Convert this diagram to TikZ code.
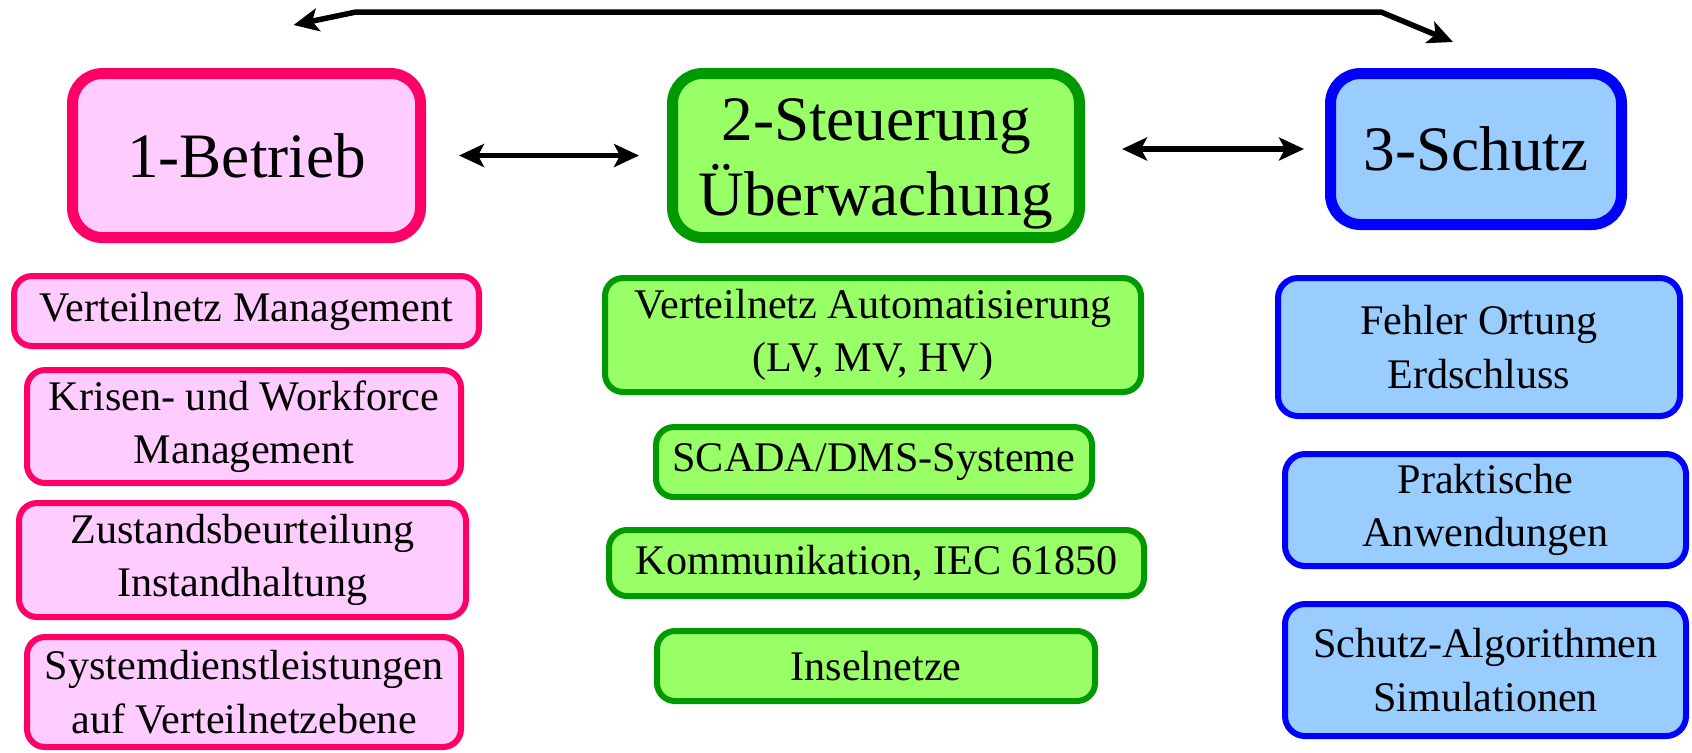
\documentclass[tikz,border=0pt]{standalone}
\usepackage{fontspec}
\setmainfont{Liberation Serif}
\usetikzlibrary{arrows.meta}

\definecolor{pinkline}{HTML}{FF0066}
\definecolor{pinkfill}{HTML}{FFCCFF}
\definecolor{greenline}{HTML}{009900}
\definecolor{greenfill}{HTML}{99FF66}
\definecolor{blueline}{HTML}{0000FF}
\definecolor{bluefill}{HTML}{99CCFF}

\begin{document}
\begin{tikzpicture}[
    head/.style={draw, rounded corners=3mm, line width=1.1mm, inner sep=0pt, align=center,
      font=\fontsize{18}{21.5}\selectfont},
    sub/.style={draw, rounded corners=1.8mm, line width=0.6mm, inner sep=0pt, align=center,
      font=\fontsize{12}{15.2}\selectfont},
    arr/.style={line width=0.55mm, {Stealth[length=2.5mm, width=2.3mm, inset=0.6mm]}-{Stealth[length=2.5mm, width=2.3mm, inset=0.6mm]}}
  ]
      \useasboundingbox (0,0) rectangle (16.92,-7.52);
      %
      \node[head, draw=pinkline, fill=pinkfill, minimum width=3.48cm, minimum height=1.64cm] (betrieb) at (2.465,-1.555) {1-Betrieb};
      \node[head, draw=greenline, fill=greenfill, minimum width=4.07cm, minimum height=1.64cm] (steuerung) at (8.76,-1.555) {\rule{0pt}{5.9mm}2-Steuerung\\Überwachung};
      \node[head, draw=blueline, fill=bluefill, minimum width=2.91cm, minimum height=1.51cm] (schutz) at (14.76,-1.49) {3-Schutz};
      %
      \foreach \n/\x/\y/\w/\h/\t in {1/2.465/-3.11/4.65/0.70/{Verteilnetz Management},
          2/2.44/-4.265/4.34/1.13/{Krisen- und Workforce\\Management},
          3/2.425/-5.60/4.47/1.14/{Zustandsbeurteilung\\Instandhaltung},
          4/2.44/-6.92/4.34/1.10/{Systemdienstleistungen\\auf Verteilnetzebene}}
        \node[sub, draw=pinkline, fill=pinkfill, minimum width=\w cm, minimum height=\h cm] (betr\n) at (\x,\y) {\t};
      \foreach \n/\x/\y/\w/\h/\t in {1/8.73/-3.35/5.36/1.14/{Verteilnetz Automatisierung\\(LV, MV, HV)},
          2/8.74/-4.62/4.36/0.70/{SCADA/DMS-Systeme},
          3/8.765/-5.63/5.35/0.66/{Kommunikation, IEC 61850},
          4/8.76/-6.66/4.38/0.70/{Inselnetze}}
        \node[sub, draw=greenline, fill=greenfill, minimum width=\w cm, minimum height=\h cm] (steu\n) at (\x,\y) {\t};
      \foreach \n/\x/\y/\w/\h/\t in {1/14.79/-3.47/4.02/1.38/{Fehler Ortung\\Erdschluss},
          2/14.855/-5.10/4.01/1.12/{Praktische\\Anwendungen},
          3/14.855/-6.70/4.01/1.32/{Schutz-Algorithmen\\Simulationen}}
        \node[sub, draw=blueline, fill=bluefill, rounded corners=2mm, minimum width=\w cm, minimum height=\h cm] (schu\n) at (\x,\y) {\t};
      %
      \draw[arr, shorten <=3.3mm, shorten >=2.8mm] (betrieb.east) -- (steuerung.west);
      \draw[arr, shorten <=3.7mm, shorten >=2.1mm] (steuerung.east |- schutz.west) -- (schutz.west);
      %
      \coordinate (topL) at ([shift={(0.47,0.43)}]betrieb.north);
      \coordinate (topR) at ([shift={(-0.23,0.26)}]schutz.north);
      \draw[arr] (topL) -- (3.56,-0.12) -- (13.81,-0.12) -- (topR);
    \end{tikzpicture}
\end{document}
